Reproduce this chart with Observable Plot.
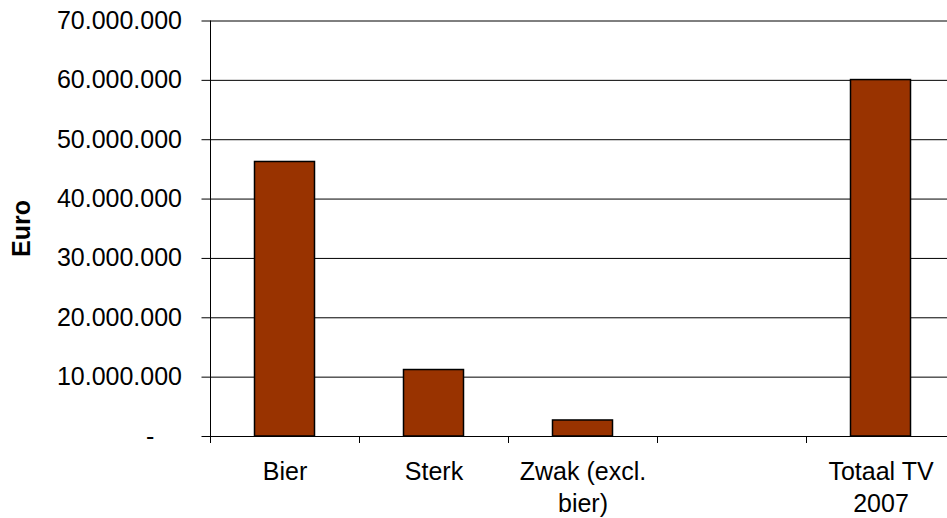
<!DOCTYPE html>
<html>
<head>
<meta charset="utf-8">
<script src="https://cdn.jsdelivr.net/npm/d3@7"></script>
<script src="https://cdn.jsdelivr.net/npm/@observablehq/plot@0.6"></script>
<style>
  html, body { margin: 0; padding: 0; background: #fff; }
  svg { display: block; }
</style>
</head>
<body>
<div id="chart"></div>
<script>
// Data
const categories = ["Bier", "Sterk", "Zwak (excl.\nbier)", " ", "Totaal TV\n2007"];
const barCategories = ["Bier", "Sterk", "Zwak (excl.\nbier)", "Totaal TV\n2007"];
const values = [46250000, 11200000, 2700000, 60050000];
const yTicks = [0, 10000000, 20000000, 30000000, 40000000, 50000000, 60000000, 70000000];
const yLabel = "Euro";

const bars = barCategories.map((c, i) => ({category: c, value: values[i]}));

const nl = d3.formatLocale({decimal: ",", thousands: ".", grouping: [3], currency: ["", ""]});
const fmt = nl.format(",d");
const tickFmt = d => d === 0 ? "-\u00a0\u00a0\u00a0\u00a0" : fmt(d);

const W = 947, H = 518;
const left = 209.5;
const step = 149;
const font = "'Liberation Sans', Arial, sans-serif";

const chart = Plot.plot({
  width: W,
  height: H,
  marginLeft: left,
  marginRight: 0,
  marginTop: 20,
  marginBottom: 82,
  style: {fontFamily: font, fontSize: "25px", color: "#000", background: "#fff"},
  x: {domain: categories, range: [left, left + step * categories.length], padding: 0, axis: null},
  y: {domain: [0, 70000000], range: [436, 20.5], axis: null},
  marks: [
    // gridlines
    Plot.ruleY(yTicks, {stroke: "#000", strokeWidth: 1, insetLeft: -8}),
    // y axis labels
    Plot.axisY(yTicks, {tickSize: 0, tickPadding: 28, tickFormat: tickFmt, fontSize: 25, label: null}),
    // y axis line
    Plot.ruleX([categories[0]], {x: d => d, y1: 70000000, y2: 0, dx: -step / 2, insetBottom: -7, stroke: "#000"}),
    // category separator ticks
    Plot.ruleX(categories.slice(1), {x: d => d, y1: 0, y2: 0, dx: -step / 2, insetBottom: -7, stroke: "#000"}),
    // bars
    Plot.barY(bars, {x: "category", y: "value", fill: "#993300", stroke: "#000", strokeWidth: 1.5, insetLeft: 44.5, insetRight: 44.5}),
    // x labels
    Plot.text(categories, {x: d => d, y: () => 0, dy: 20, lineAnchor: "top", lineHeight: 1.3, fontSize: 25, fill: "#000"}),
    // y title
    Plot.text([yLabel], {frameAnchor: "left", dx: -188, rotate: -90, textAnchor: "middle", fontWeight: "bold", fontSize: 25, fill: "#000"})
  ]
});
document.getElementById("chart").appendChild(chart);
</script>
</body>
</html>
